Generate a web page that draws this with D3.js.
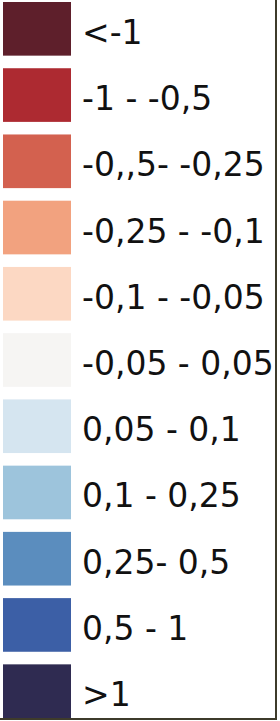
<!DOCTYPE html>
<html>
<head>
<meta charset="utf-8">
<script src="https://cdn.jsdelivr.net/npm/d3@7"></script>
<style>
  body { margin: 0; background: #fff; }
  svg { display: block; }
</style>
</head>
<body>
<svg id="legend" width="280" height="721"></svg>
<script>
// legend classes, top to bottom
let labels = ['<-1', '-1 - -0,5', '-0,,5- -0,25', '-0,25 - -0,1', '-0,1 - -0,05',
              '-0,05 - 0,05', '0,05 - 0,1', '0,1 - 0,25', '0,25- 0,5', '0,5 - 1', '>1'];
let colors = ['#5e1f2b', '#ad2a31', '#d3614f', '#f2a27f', '#fcd8c3',
              '#f6f5f3', '#d5e5f0', '#9dc4dc', '#5b8dbe', '#3c5fa6', '#2f2b51'];

let svg = d3.select('#legend');

let yScale = d3.scaleBand()
    .domain(labels)
    .range([2, 718])
    .paddingInner(0.19)
    .paddingOuter(0);

let color = d3.scaleOrdinal().domain(labels).range(colors);

let rows = svg.selectAll('g.row')
    .data(labels)
    .join('g')
    .attr('class', 'row')
    .attr('transform', d => `translate(0,${yScale(d)})`);

rows.append('rect')
    .attr('x', 3)
    .attr('width', 68)
    .attr('height', yScale.bandwidth())
    .attr('fill', d => color(d));

rows.append('text')
    .attr('x', 82)
    .attr('y', yScale.bandwidth() / 2 + 15)
    .attr('font-family', 'DejaVu Sans, Verdana, sans-serif')
    .attr('font-size', 33)
    .attr('fill', '#111')
    .text(d => d);

// frame on right and bottom
svg.append('line')
    .attr('x1', 276).attr('y1', 0).attr('x2', 276).attr('y2', 719)
    .attr('stroke', '#3e3b2b').attr('stroke-width', 2);
svg.append('line')
    .attr('x1', 0).attr('y1', 719).attr('x2', 277).attr('y2', 719)
    .attr('stroke', '#3e3b2b').attr('stroke-width', 2);
</script>
</body>
</html>
